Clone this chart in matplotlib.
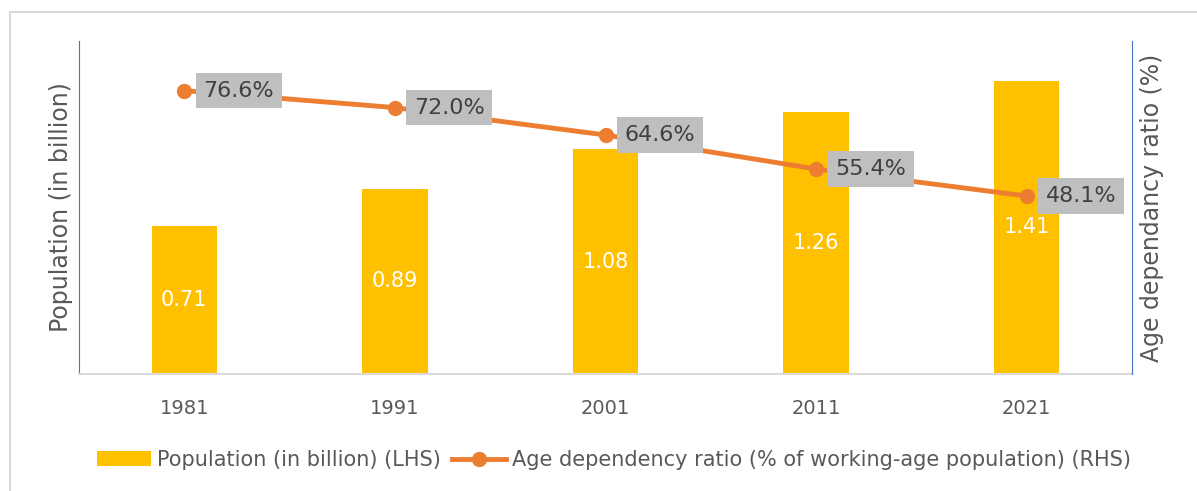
import matplotlib.pyplot as plt
from matplotlib.patches import Rectangle

years = ['1981', '1991', '2001', '2011', '2021']
population = [0.71, 0.89, 1.08, 1.26, 1.41]
dependency = [76.6, 72.0, 64.6, 55.4, 48.1]

plt.rcParams['font.family'] = ['DejaVu Sans']

fig = plt.figure(figsize=(11.97, 4.91), dpi=100)
# outer chart border
fig.patches.append(Rectangle((10 / 1197, -0.01), 1.0, (491 - 12) / 491 + 0.01,
                             transform=fig.transFigure, fill=False,
                             edgecolor='#D9D9D9', lw=1.5))

ax = fig.add_axes([79 / 1197, 117 / 491, (1132 - 79) / 1197, 333 / 491])
x = list(range(len(years)))
bars = ax.bar(x, population, width=0.31, color='#FFC000', zorder=2,
              label='Population (in billion) (LHS)')
for xi, v in zip(x, population):
    ax.text(xi, v / 2, f'{v:.2f}', ha='center', va='center', color='white', fontsize=15)

ax.set_xlim(-0.5, 4.5)
ax.set_ylim(0, 1.6)
ax.set_xticks(x)
ax.set_xticklabels(years, fontsize=14, color='#595959')
ax.tick_params(axis='x', length=0, pad=18)
ax.set_yticks([])
ax.set_ylabel('Population (in billion)', fontsize=17, color='#595959', labelpad=4)
for s in ['top', 'right']:
    ax.spines[s].set_visible(False)
ax.spines['left'].set_color('#4472C4')
ax.spines['bottom'].set_color('#D9D9D9')
ax.spines['bottom'].set_linewidth(1.5)

ax2 = ax.twinx()
line, = ax2.plot(x, dependency, color='#ED7D31', lw=3.5, marker='o', markersize=10,
                 zorder=3, label='Age dependency ratio (% of working-age population) (RHS)')
ax2.set_ylim(0, 90)
ax2.set_yticks([])
ax2.set_ylabel('Age dependancy ratio (%)', fontsize=17, color='#595959', labelpad=6)
for s in ['top', 'left', 'bottom']:
    ax2.spines[s].set_visible(False)
ax2.spines['right'].set_color('#4472C4')
for xi, v in zip(x, dependency):
    ax2.annotate(f'{v:.1f}%', (xi, v), xytext=(19, 0), textcoords='offset pixels',
                 ha='left', va='center', fontsize=16, color='#404040',
                 bbox=dict(boxstyle='square,pad=0.35', fc='#BFBFBF', ec='none'))

fig.legend([bars, line], [bars.get_label(), line.get_label()],
           loc='center', bbox_to_anchor=(0.513, 31 / 491), ncol=2, frameon=False,
           fontsize=15, labelcolor='#595959', handlelength=2.6, handletextpad=0.3,
           columnspacing=0.5)

fig.savefig('out.png', dpi=100)
